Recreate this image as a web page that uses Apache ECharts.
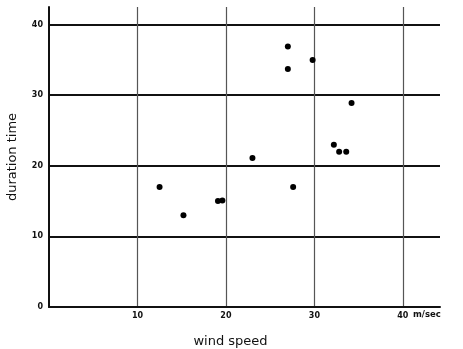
<!DOCTYPE html>
<html>
<head>
<meta charset="utf-8">
<script src="https://cdn.jsdelivr.net/npm/echarts@6/dist/echarts.min.js"></script>
<style>html,body{margin:0;padding:0;background:#fff}#c{width:463px;height:349px}</style>
</head>
<body>
<div id="c"></div>
<script>
const windSpeed = [12.5, 15.2, 19.1, 19.6, 23.0, 27.6, 27.0, 27.0, 29.8, 34.2, 32.2, 32.8, 33.6];
const durationTime = [17.0, 13.0, 15.0, 15.1, 21.1, 17.0, 36.9, 33.7, 35.0, 28.9, 23.0, 22.0, 22.0];
const xTicks = [10, 20, 30, 40];
const yTicks = [0, 10, 20, 30, 40];

const points = windSpeed.map((x, i) => [x, durationTime[i]]);
const labelFont = {fontFamily: 'DejaVu Sans', fontWeight: 'bold', fontSize: 8, color: '#111'};

const chart = echarts.init(document.getElementById('c'));
chart.setOption({
  animation: false,
  backgroundColor: '#fff',
  grid: {left: 49, right: 23, top: 7, bottom: 42, containLabel: false, outerBoundsMode: 'none'},
  xAxis: {
    type: 'value', min: 0, max: 44.2, interval: 10,
    name: 'wind speed', nameLocation: 'middle', nameGap: 28,
    nameTextStyle: {fontFamily: 'DejaVu Sans', fontSize: 13, color: '#111', padding: [0, 28, 0, 0]},
    axisLine: {show: true, lineStyle: {color: '#111', width: 2}},
    axisTick: {show: false},
    axisLabel: {
      ...labelFont, margin: 5,
      formatter: v => (xTicks.includes(v) ? String(v) : '')
    },
    splitLine: {show: true, showMinLine: false, showMaxLine: false, lineStyle: {color: '#555', width: 1.2}}
  },
  yAxis: {
    type: 'value', min: 0, max: 42.5, interval: 10,
    name: 'duration time', nameLocation: 'middle', nameGap: 30,
    nameTextStyle: {fontFamily: 'DejaVu Sans', fontSize: 13, color: '#111'},
    axisLine: {show: true, lineStyle: {color: '#111', width: 2}},
    axisTick: {show: false},
    axisLabel: {
      ...labelFont, margin: 6,
      formatter: v => (yTicks.includes(v) ? String(v) : '')
    },
    splitLine: {show: true, showMinLine: false, showMaxLine: false, lineStyle: {color: '#111', width: 1.8}}
  },
  graphic: [{
    type: 'text', left: 413, top: 310,
    style: {text: 'm/sec', font: 'bold 8.5px "DejaVu Sans"', fill: '#111'}
  }],
  series: [{
    type: 'scatter',
    data: points,
    symbol: 'circle',
    symbolSize: 6,
    itemStyle: {color: '#000', opacity: 1}
  }]
});
</script>
</body>
</html>
